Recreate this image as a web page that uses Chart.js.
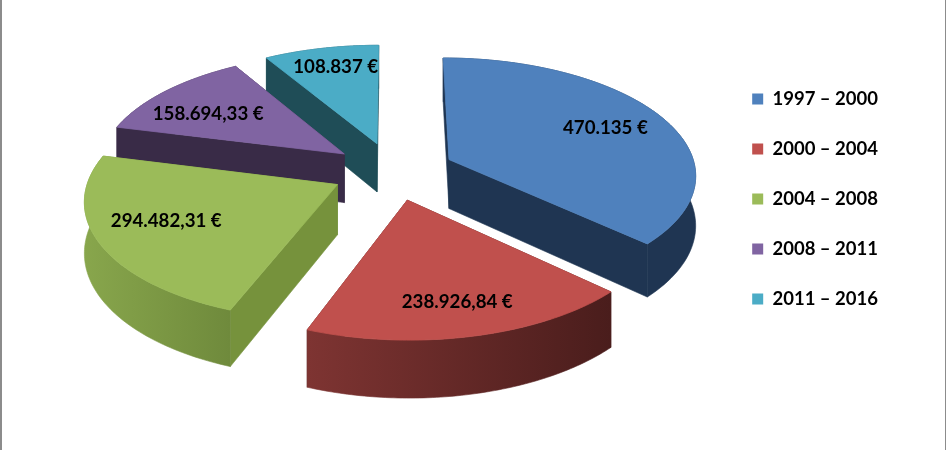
<!DOCTYPE html>
<html>
<head>
<meta charset="utf-8">
<script src="https://cdn.jsdelivr.net/npm/chart.js@4"></script>
<style>
body { margin: 0; background: #fff; }
#wrap { position: relative; width: 946px; height: 450px; overflow: hidden; }
#frame { position: absolute; left: 0; top: 0; width: 943px; height: 450px; border-left: 2px solid #8c8c8c; border-right: 1px solid #8c8c8c; pointer-events: none; }
</style>
</head>
<body>
<div id="wrap">
<canvas id="chart" width="946" height="450"></canvas>
<div id="frame"></div>
</div>
<script>
// Data
const periods = ["1997 – 2000", "2000 – 2004", "2004 – 2008", "2008 – 2011", "2011 – 2016"];
const amounts = [470135, 238926.84, 294482.31, 158694.33, 108837];
const amountLabels = ["470.135 €", "238.926,84 €", "294.482,31 €", "158.694,33 €", "108.837 €"];

// Style
const topColors = ["#4F81BD", "#C0504D", "#9BBB59", "#8064A2", "#4BACC6"];
const wallLeft = ["#1F3552", "#7E3432", "#88A64C", "#392B47", "#1F4D57"];
const wallRight = ["#1F3552", "#4A1D1C", "#6F8A3C", "#392B47", "#1F4D57"];
const faceColors = ["#1F3552", "#4A1D1C", "#76923C", "#392B47", "#1F4D57"];
const explosion = [25, 25, 25, 25, 25]; // percent of radius
const labelRadius = [0.73, 0.77, 0.715, 0.70, 0.79];
const labelTurn = [0, 0, 0.057, -0.082, 0.022]; // radians

// 3D view
const view = { cx: 393, cy: 171, rx: 247, k: 0.47, dist: 8.5, depth: 49.5 };

function project(px, py, down) {
    let s = 1 / (1 - py / view.dist);
    return {
        x: view.cx + px * view.rx * s,
        y: view.cy + py * view.rx * view.k * s + (down ? view.depth * s : 0)
    };
}

// plane position of a point in a slice, unit radius
function slicePoint(arc, angle, r) {
    let mid = (arc.startAngle + arc.endAngle) / 2;
    let off = arc.options.offset / 100;
    return {
        x: Math.cos(mid) * off + Math.cos(angle) * r,
        y: Math.sin(mid) * off + Math.sin(angle) * r
    };
}

function fillWall(ctx, points, color) {
    ctx.beginPath();
    points.forEach(p => {
        let q = project(p.x, p.y, false);
        ctx.lineTo(q.x, q.y);
    });
    points.slice().reverse().forEach(p => {
        let q = project(p.x, p.y, true);
        ctx.lineTo(q.x, q.y);
    });
    ctx.closePath();
    ctx.fillStyle = color;
    ctx.strokeStyle = color;
    ctx.lineWidth = 0.6;
    ctx.fill();
    ctx.stroke();
}

function drawSlice(ctx, arc, i) {
    let steps = 80;
    let apex = slicePoint(arc, 0, 0);
    let rim = [];
    for (let n = 0; n <= steps; n++) {
        let angle = arc.startAngle + (arc.endAngle - arc.startAngle) * n / steps;
        rim.push(slicePoint(arc, angle, 1));
    }

    // cut faces, far one first
    let faces = [rim[0], rim[steps]].sort((a, b) => a.y - b.y);
    faces.forEach(p => fillWall(ctx, [apex, p], faceColors[i]));

    // outer wall, shaded from left to right
    let xs = rim.map(p => project(p.x, p.y, false).x);
    let grad = ctx.createLinearGradient(Math.min(...xs), 0, Math.max(...xs), 0);
    grad.addColorStop(0, wallLeft[i]);
    grad.addColorStop(1, wallRight[i]);
    fillWall(ctx, rim, grad);

    // top
    let a = project(apex.x, apex.y, false);
    ctx.beginPath();
    ctx.moveTo(a.x, a.y);
    rim.forEach(p => {
        let q = project(p.x, p.y, false);
        ctx.lineTo(q.x, q.y);
    });
    ctx.closePath();
    ctx.fillStyle = topColors[i];
    ctx.strokeStyle = topColors[i];
    ctx.lineWidth = 0.8;
    ctx.fill();
    ctx.stroke();
}

const pie3d = {
    id: "pie3d",
    beforeDatasetsDraw(chart) {
        let ctx = chart.ctx;
        let arcs = chart.getDatasetMeta(0).data;
        let order = arcs.map((arc, i) => i).sort((a, b) => {
            let ya = slicePoint(arcs[a], 0, 0).y;
            let yb = slicePoint(arcs[b], 0, 0).y;
            return ya - yb;
        });
        ctx.save();
        order.forEach(i => drawSlice(ctx, arcs[i], i));

        ctx.font = "bold 18.7px Lato";
        ctx.fillStyle = "#000";
        ctx.textAlign = "center";
        ctx.textBaseline = "middle";
        arcs.forEach((arc, i) => {
            let mid = (arc.startAngle + arc.endAngle) / 2;
            let p = slicePoint(arc, mid + labelTurn[i], labelRadius[i]);
            let q = project(p.x, p.y, false);
            ctx.fillText(amountLabels[i], q.x, q.y);
        });
        ctx.restore();
        return false;
    }
};

new Chart(document.getElementById("chart"), {
    type: "pie",
    data: {
        labels: periods,
        datasets: [{
            data: amounts,
            backgroundColor: topColors,
            borderWidth: 0,
            offset: explosion
        }]
    },
    options: {
        responsive: false,
        animation: false,
        layout: { padding: { right: 58, bottom: 52 } },
        plugins: {
            tooltip: { enabled: false },
            legend: {
                position: "right",
                labels: {
                    boxWidth: 11,
                    boxHeight: 11,
                    padding: 31.5,
                    color: "#000",
                    font: { family: "Lato", size: 18.5, weight: "bold" }
                }
            }
        }
    },
    plugins: [pie3d]
});
</script>
</body>
</html>
